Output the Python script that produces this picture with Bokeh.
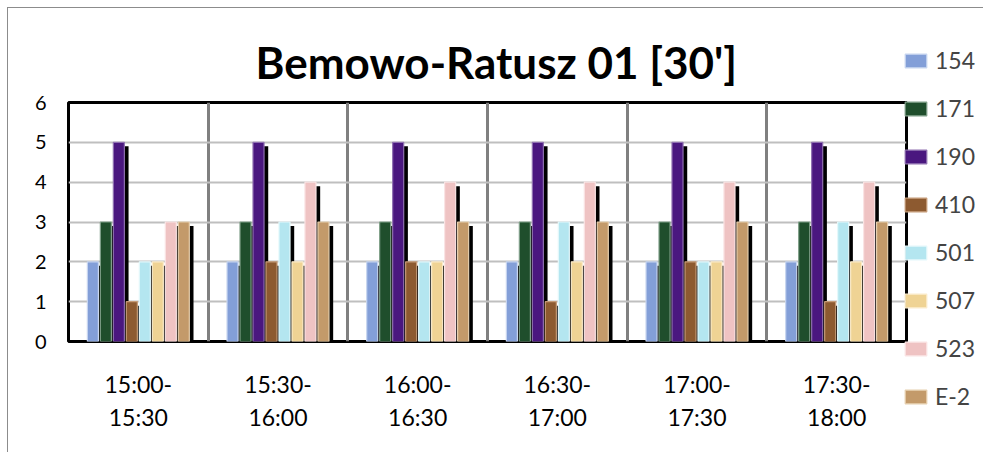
from bokeh.plotting import figure
from bokeh.models import ColumnDataSource, Range1d, FixedTicker, Legend, LegendItem
from bokeh.embed import file_html
from bokeh.resources import INLINE

categories = ["15:00-\n15:30", "15:30-\n16:00", "16:00-\n16:30",
              "16:30-\n17:00", "17:00-\n17:30", "17:30-\n18:00"]
series_names = ["154", "171", "190", "410", "501", "507", "523", "E-2"]
v154 = [2, 2, 2, 2, 2, 2]
v171 = [3, 3, 3, 3, 3, 3]
v190 = [5, 5, 5, 5, 5, 5]
v410 = [1, 2, 2, 1, 2, 1]
v501 = [2, 3, 2, 3, 2, 3]
v507 = [2, 2, 2, 2, 2, 2]
v523 = [3, 4, 4, 4, 4, 4]
vE2 = [3, 3, 3, 3, 3, 3]
series_values = [v154, v171, v190, v410, v501, v507, v523, vE2]
y_ticks = [0, 1, 2, 3, 4, 5, 6]

fills = ["#839fd8", "#1f4e2c", "#4a177f", "#8d5a30", "#b4e6f0", "#efd394", "#efc3c3", "#c39a6a"]
edges = ["#c8d6f0", "#7f9f88", "#8f70b0", "#c69c78", "#e4f8fb", "#fbeccb", "#fae4e4", "#e6cfae"]

FONT = "Lato"
p = figure(width=974, height=444, output_backend="svg", toolbar_location=None,
           x_range=Range1d(-0.5, len(categories) - 0.5), y_range=Range1d(0, 6),
           frame_width=838, frame_height=239,
           min_border_left=60, min_border_right=76, min_border_top=94, min_border_bottom=111,
           title="Bemowo-Ratusz 01 [30']")
p.styles = {"margin-left": "7px", "margin-top": "7px",
            "border-top": "1px solid #8c8c8c", "border-left": "1px solid #8c8c8c",
            "border-right": "1px solid #8c8c8c"}

p.title.text_font = FONT
p.title.text_font_size = "44px"
p.title.text_font_style = "bold"
p.title.text_color = "black"
p.title.align = "left"
p.title.offset = 187
p.title.standoff = 29

p.outline_line_color = "black"
p.outline_line_width = 3
p.background_fill_color = "white"
p.border_fill_color = "white"

p.yaxis.ticker = FixedTicker(ticks=y_ticks)
p.ygrid.ticker = FixedTicker(ticks=y_ticks)
p.ygrid.grid_line_color = "#bfbfbf"
p.ygrid.grid_line_width = 2
p.xaxis.ticker = FixedTicker(ticks=list(range(len(categories))))
p.xaxis.major_label_overrides = {i: c for i, c in enumerate(categories)}
p.xgrid.ticker = FixedTicker(ticks=[i + 0.5 for i in range(len(categories) - 1)])
p.xgrid.grid_line_color = "#808080"
p.xgrid.grid_line_width = 3

for ax in (p.xaxis, p.yaxis):
    ax.axis_line_color = None
    ax.major_tick_line_color = None
    ax.minor_tick_line_color = None
    ax.major_label_text_font = FONT
    ax.major_label_text_color = "black"
p.xaxis.major_label_text_font_size = "23px"
p.yaxis.major_label_text_font_size = "20px"
p.xaxis.major_label_standoff = 22
p.xaxis.major_label_text_line_height = 1.2
p.yaxis.major_label_standoff = 16

n = len(series_names)
step = 0.093
width = 0.079
shadow_dx = 0.03
items = []
for i, (name, vals) in enumerate(zip(series_names, series_values)):
    off = (i - (n - 1) / 2) * step
    xs = [j + off for j in range(len(categories))]
    src = ColumnDataSource(dict(x=xs, xs=[x + shadow_dx for x in xs], top=vals,
                                stop=[max(v - 0.1, 0) for v in vals]))
    p.vbar(x="xs", top="stop", bottom=0, width=width, source=src,
           fill_color="black", line_color=None)
    r = p.vbar(x="x", top="top", bottom=0, width=width, source=src,
               fill_color=fills[i], line_color=edges[i], line_width=1.2)
    items.append(LegendItem(label=name, renderers=[r]))

legend = Legend(items=items, location=(-4, -69), orientation="vertical",
                glyph_width=27, glyph_height=17, label_height=24, label_width=30,
                spacing=20, padding=0, margin=0, label_standoff=6,
                label_text_font=FONT, label_text_font_size="23px",
                background_fill_alpha=0, border_line_color=None)
p.add_layout(legend, "right")

open("out.html", "w").write(file_html(p, INLINE))
